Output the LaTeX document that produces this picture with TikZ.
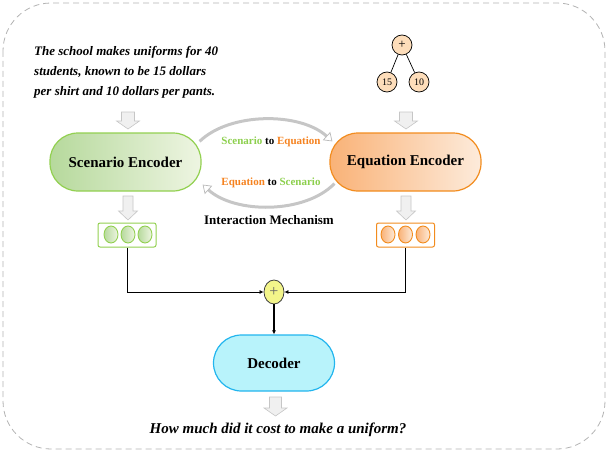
\documentclass[tikz,border=0pt]{standalone}
\usepackage{fontspec}
\setmainfont{Liberation Serif}
\usetikzlibrary{shapes.geometric,arrows.meta}
\definecolor{gborder}{HTML}{92D050}
\definecolor{gtext}{HTML}{8CCF4D}
\definecolor{gdark}{HTML}{B6D99C}
\definecolor{glight}{HTML}{EEF5E2}
\definecolor{oborder}{HTML}{F28C1E}
\definecolor{otext}{HTML}{F5821F}
\definecolor{odark}{HTML}{F9B277}
\definecolor{olight}{HTML}{FDEBDB}
\definecolor{cfill}{HTML}{B8F3FB}
\definecolor{cborder}{HTML}{22B5EE}
\definecolor{peach}{HTML}{FDDDBA}
\definecolor{plusy}{HTML}{F3F58A}
% block arrow: x, top y, bottom y, shaft half width, head half width, head length
\newcommand\blkarr[6]{%
  \draw[blockarrow] ({#1-#4},#2) -- ({#1+#4},#2) -- ({#1+#4},{#3-#6}) -- ({#1+#5},{#3-#6})
    -- (#1,#3) -- ({#1-#5},{#3-#6}) -- ({#1-#4},{#3-#6}) -- cycle;}
\begin{document}
\begin{tikzpicture}[x=1pt,y=-1pt,
  frame/.style={draw=gray!60,dash pattern=on 6pt off 4pt,line width=0.8pt,rounded corners=48pt},
  pill/.style={rectangle,rounded corners=28pt,minimum width=151pt,minimum height=58pt,line width=1.2pt,inner sep=0pt,font=\fontsize{15}{18}\selectfont\bfseries},
  blockarrow/.style={draw=gray!45,fill=gray!12,line width=0.6pt,line join=miter},
  lbl/.style={font=\fontsize{11}{13}\selectfont\bfseries,inner sep=0pt},
  treenode/.style={circle,draw=black,line width=0.7pt,fill=peach,minimum size=20pt,inner sep=0pt,font=\fontsize{10}{11}\selectfont},
  vecbox/.style={rectangle,rounded corners=2pt,draw=#1,line width=1pt,fill=white,minimum width=58pt,minimum height=24pt,inner sep=0pt},
  vdot/.style={ellipse,draw=#1,line width=0.9pt,minimum width=14pt,minimum height=17pt,inner sep=0pt},
  conn/.style={draw=black,line width=0.7pt,-{Latex[length=4pt,width=4pt]}},
  curv/.style={draw=gray!45,line width=3pt,-{Triangle[length=8pt,width=11pt,line width=0.7pt,open,fill=white,color=gray!55]}}
]
\useasboundingbox (0,0) rectangle (608,452);
\draw[frame] (3,3) rectangle (605,449);

% input text
\node[anchor=north west,align=left,inner sep=0pt,font=\fontsize{13}{20}\selectfont\bfseries\itshape] (txt) at (34,46)
  {The school makes uniforms for 40\\students, known to be 15 dollars\\per shirt and 10 dollars per pants.};

% expression tree
\node[treenode,font=\fontsize{13}{13}\selectfont] (tp) at (402,45) {+};
\node[treenode] (t15) at (387,82) {15};
\node[treenode] (t10) at (419,82) {10};
\draw[line width=0.7pt] (tp) -- (t15);
\draw[line width=0.7pt] (tp) -- (t10);

% input arrows
\blkarr{128}{112}{129}{6.5}{11.5}{8}
\blkarr{406}{112}{129}{6.5}{11.5}{8}

% encoders
\node[pill,draw=gborder,left color=gdark,right color=glight] (se) at (125.5,162) {Scenario Encoder};
\node[pill,draw=oborder,left color=odark,right color=olight] (ee) at (405.5,162) {Equation Encoder};

% interaction
\draw[curv] ([xshift=-2pt,yshift=-9pt]se.north east) .. controls (230,112) and (300,112) .. ([xshift=3pt,yshift=-9pt]ee.north west);
\draw[curv] ([xshift=5pt,yshift=8pt]ee.south west) .. controls (305,214) and (235,214) .. ([xshift=1pt,yshift=7pt]se.south east);
\node[lbl] (s2e) at (271,142) {\textcolor{gtext}{Scenario} to \textcolor{otext}{Equation}};
\node[lbl] (e2s) at (271,183) {\textcolor{otext}{Equation} to \textcolor{gtext}{Scenario}};
\node[inner sep=0pt,font=\fontsize{13}{15}\selectfont\bfseries] (im) at (269,220) {Interaction Mechanism};

% encoder output arrows
\blkarr{128}{196}{220}{5}{9.5}{9}
\blkarr{406}{196}{220}{5}{9.5}{9}

% vectors
\node[vecbox=gborder] (gv) at (127,235) {};
\foreach \i/\x in {1/111,2/128,3/145}
  \node[vdot=gborder,left color=gdark,right color=glight] (g\i) at (\x,234.5) {};
\node[vecbox=oborder] (ov) at (405.5,235) {};
\foreach \i/\x in {1/388,2/405.5,3/423}
  \node[vdot=oborder,left color=odark,right color=olight] (o\i) at (\x,234.5) {};

% merge
\node[ellipse,draw=black!75,line width=0.8pt,fill=plusy,minimum width=20pt,minimum height=24pt,inner sep=0pt,font=\fontsize{16}{16}\selectfont,text=black!60] (plus) at (274,292) {+};
\draw[conn] (gv.south) |- (plus.west);
\draw[conn] (ov.south) |- (plus.east);

% decoder
\node[pill,draw=cborder,fill=cfill,minimum width=121pt,minimum height=56pt] (dec) at (274,363) {Decoder};
\draw[conn,line width=1.1pt] (plus.south) -- (dec.north);

\blkarr{275.5}{397}{416}{6}{11.5}{8}
\node[inner sep=0pt,font=\fontsize{15}{18}\selectfont\bfseries\itshape] (out) at (278,430) {How much did it cost to make a uniform?};
\end{tikzpicture}
\end{document}
